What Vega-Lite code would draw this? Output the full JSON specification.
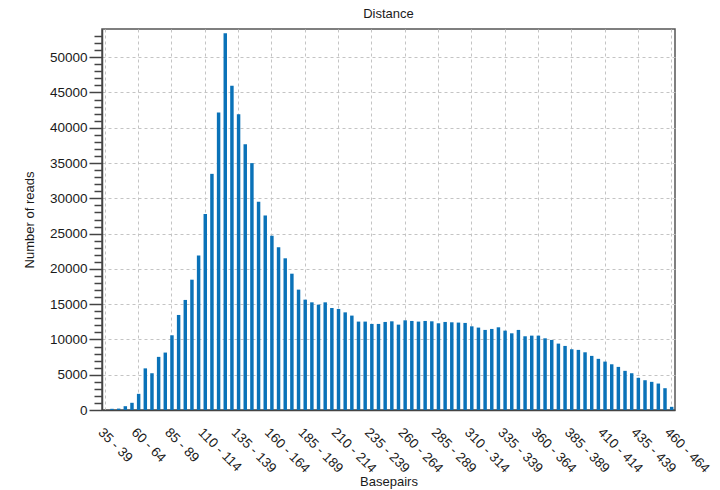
{
  "$schema": "https://vega.github.io/schema/vega-lite/v6.json",
  "width": 573,
  "height": 381,
  "autosize": {"type": "none"},
  "padding": {"left": 102, "top": 29, "right": 45, "bottom": 80},
  "background": "white",
  "title": {"text": "Distance", "fontSize": 13, "fontWeight": "normal", "font": "Liberation Sans", "color": "#1a1a1a", "offset": 8},
  "config": {
    "view": {"stroke": "#555555", "strokeWidth": 1.5},
    "font": "Liberation Sans"
  },
  "data": {"values": [
    {"bin": "35 - 39", "reads": 0},
    {"bin": "40 - 44", "reads": 170},
    {"bin": "45 - 49", "reads": 200},
    {"bin": "50 - 54", "reads": 540},
    {"bin": "55 - 59", "reads": 1020},
    {"bin": "60 - 64", "reads": 2290},
    {"bin": "65 - 69", "reads": 5900},
    {"bin": "70 - 74", "reads": 5210},
    {"bin": "75 - 79", "reads": 7530},
    {"bin": "80 - 84", "reads": 8140},
    {"bin": "85 - 89", "reads": 10590},
    {"bin": "90 - 94", "reads": 13470},
    {"bin": "95 - 99", "reads": 15600},
    {"bin": "100 - 104", "reads": 18470},
    {"bin": "105 - 109", "reads": 21910},
    {"bin": "110 - 114", "reads": 27770},
    {"bin": "115 - 119", "reads": 33470},
    {"bin": "120 - 124", "reads": 42150},
    {"bin": "125 - 129", "reads": 53390},
    {"bin": "130 - 134", "reads": 45970},
    {"bin": "135 - 139", "reads": 41920},
    {"bin": "140 - 144", "reads": 37680},
    {"bin": "145 - 149", "reads": 34990},
    {"bin": "150 - 154", "reads": 29510},
    {"bin": "155 - 159", "reads": 27570},
    {"bin": "160 - 164", "reads": 24700},
    {"bin": "165 - 169", "reads": 23050},
    {"bin": "170 - 174", "reads": 21500},
    {"bin": "175 - 179", "reads": 19320},
    {"bin": "180 - 184", "reads": 17060},
    {"bin": "185 - 189", "reads": 15640},
    {"bin": "190 - 194", "reads": 15260},
    {"bin": "195 - 199", "reads": 14930},
    {"bin": "200 - 204", "reads": 15260},
    {"bin": "205 - 209", "reads": 14460},
    {"bin": "210 - 214", "reads": 14320},
    {"bin": "215 - 219", "reads": 13840},
    {"bin": "220 - 224", "reads": 13380},
    {"bin": "225 - 229", "reads": 12530},
    {"bin": "230 - 234", "reads": 12530},
    {"bin": "235 - 239", "reads": 12200},
    {"bin": "240 - 244", "reads": 12200},
    {"bin": "245 - 249", "reads": 12480},
    {"bin": "250 - 254", "reads": 12570},
    {"bin": "255 - 259", "reads": 12100},
    {"bin": "260 - 264", "reads": 12710},
    {"bin": "265 - 269", "reads": 12620},
    {"bin": "270 - 274", "reads": 12530},
    {"bin": "275 - 279", "reads": 12620},
    {"bin": "280 - 284", "reads": 12570},
    {"bin": "285 - 289", "reads": 12290},
    {"bin": "290 - 294", "reads": 12480},
    {"bin": "295 - 299", "reads": 12430},
    {"bin": "300 - 304", "reads": 12390},
    {"bin": "305 - 309", "reads": 12340},
    {"bin": "310 - 314", "reads": 11860},
    {"bin": "315 - 319", "reads": 11680},
    {"bin": "320 - 324", "reads": 11350},
    {"bin": "325 - 329", "reads": 11490},
    {"bin": "330 - 334", "reads": 11720},
    {"bin": "335 - 339", "reads": 11250},
    {"bin": "340 - 344", "reads": 10870},
    {"bin": "345 - 349", "reads": 11350},
    {"bin": "350 - 354", "reads": 10450},
    {"bin": "355 - 359", "reads": 10540},
    {"bin": "360 - 364", "reads": 10540},
    {"bin": "365 - 369", "reads": 10160},
    {"bin": "370 - 374", "reads": 9930},
    {"bin": "375 - 379", "reads": 9410},
    {"bin": "380 - 384", "reads": 9080},
    {"bin": "385 - 389", "reads": 8610},
    {"bin": "390 - 394", "reads": 8520},
    {"bin": "395 - 399", "reads": 8180},
    {"bin": "400 - 404", "reads": 7670},
    {"bin": "405 - 409", "reads": 7250},
    {"bin": "410 - 414", "reads": 6860},
    {"bin": "415 - 419", "reads": 6480},
    {"bin": "420 - 424", "reads": 6110},
    {"bin": "425 - 429", "reads": 5550},
    {"bin": "430 - 434", "reads": 5210},
    {"bin": "435 - 439", "reads": 4560},
    {"bin": "440 - 444", "reads": 4220},
    {"bin": "445 - 449", "reads": 3990},
    {"bin": "450 - 454", "reads": 3750},
    {"bin": "455 - 459", "reads": 3090},
    {"bin": "460 - 464", "reads": 450}
  ]},
  "mark": {"type": "bar", "color": "#0a72b8"},
  "encoding": {
    "x": {
      "field": "bin",
      "type": "ordinal",
      "sort": null,
      "scale": {"paddingInner": 0.48, "paddingOuter": 0.24},
      "axis": {
        "title": "Basepairs",
        "titleFontSize": 13,
        "titleFontWeight": "normal",
        "titleColor": "#1a1a1a",
        "titlePadding": 1,
        "values": ["35 - 39", "60 - 64", "85 - 89", "110 - 114", "135 - 139", "160 - 164", "185 - 189", "210 - 214", "235 - 239", "260 - 264", "285 - 289", "310 - 314", "335 - 339", "360 - 364", "385 - 389", "410 - 414", "435 - 439", "460 - 464"],
        "labelAngle": 45,
        "labelAlign": "left",
        "labelBaseline": "top",
        "labelFontSize": 13.5,
        "labelColor": "#1a1a1a",
        "labelPadding": 15,
        "ticks": false,
        "domainColor": "#444444",
        "domainWidth": 1.5,
        "grid": true,
        "gridColor": "#c4c4c4",
        "gridDash": [3, 3],
        "labelOverlap": false
      }
    },
    "y": {
      "field": "reads",
      "type": "quantitative",
      "scale": {"domain": [0, 54000], "nice": false},
      "axis": {
        "title": "Number of reads",
        "titleFontSize": 13,
        "titleFontWeight": "normal",
        "titleColor": "#1a1a1a",
        "titlePadding": 13,
        "values": [0, 1000, 2000, 3000, 4000, 5000, 6000, 7000, 8000, 9000, 10000, 11000, 12000, 13000, 14000, 15000, 16000, 17000, 18000, 19000, 20000, 21000, 22000, 23000, 24000, 25000, 26000, 27000, 28000, 29000, 30000, 31000, 32000, 33000, 34000, 35000, 36000, 37000, 38000, 39000, 40000, 41000, 42000, 43000, 44000, 45000, 46000, 47000, 48000, 49000, 50000, 51000, 52000, 53000],
        "labelExpr": "datum.value % 5000 === 0 ? format(datum.value, 'd') : ''",
        "labelFontSize": 13.5,
        "labelColor": "#1a1a1a",
        "labelPadding": 2,
        "tickSize": {"condition": {"test": "datum.value % 5000 === 0", "value": 13}, "value": 8},
        "tickColor": "#444444",
        "tickWidth": 1.5,
        "domainColor": "#444444",
        "domainWidth": 1.5,
        "grid": true,
        "gridColor": "#c4c4c4",
        "gridDash": [3, 3],
        "gridOpacity": {"condition": {"test": "datum.value % 5000 === 0 && datum.value > 0", "value": 1}, "value": 0},
        "labelOverlap": false
      }
    }
  }
}
